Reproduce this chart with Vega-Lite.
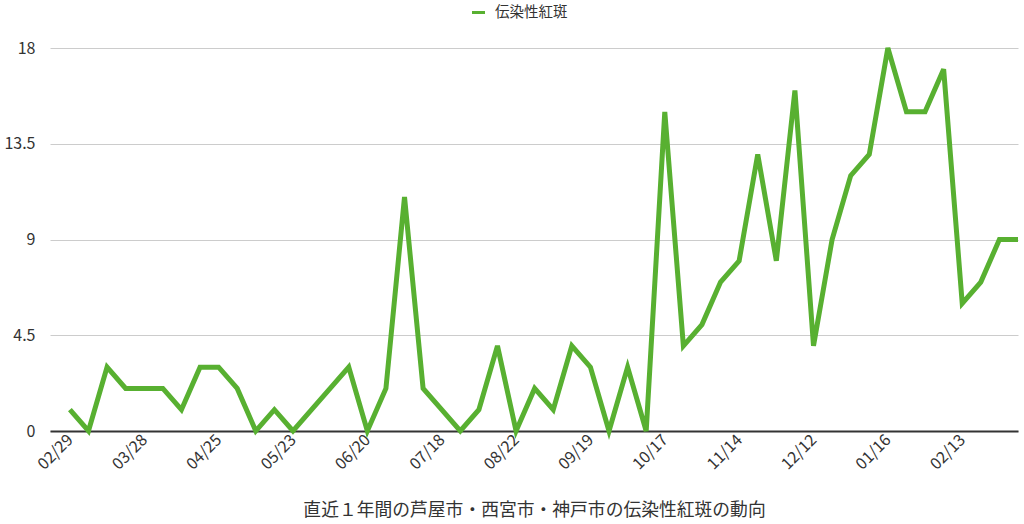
{
  "$schema": "https://vega.github.io/schema/vega-lite/v6.json",
  "width": 968,
  "height": 383,
  "autosize": {"type": "none"},
  "padding": {"left": 50, "top": 48, "right": 6, "bottom": 93},
  "background": "white",
  "config": {
    "view": {"stroke": null},
    "font": "Noto Sans CJK JP"
  },
  "data": {
    "values": [
      {"i": 0, "date": "02/29", "v": 1, "s": "伝染性紅斑"},
      {"i": 1, "date": "03/07", "v": 0, "s": "伝染性紅斑"},
      {"i": 2, "date": "03/14", "v": 3, "s": "伝染性紅斑"},
      {"i": 3, "date": "03/21", "v": 2, "s": "伝染性紅斑"},
      {"i": 4, "date": "03/28", "v": 2, "s": "伝染性紅斑"},
      {"i": 5, "date": "04/04", "v": 2, "s": "伝染性紅斑"},
      {"i": 6, "date": "04/11", "v": 1, "s": "伝染性紅斑"},
      {"i": 7, "date": "04/18", "v": 3, "s": "伝染性紅斑"},
      {"i": 8, "date": "04/25", "v": 3, "s": "伝染性紅斑"},
      {"i": 9, "date": "05/02", "v": 2, "s": "伝染性紅斑"},
      {"i": 10, "date": "05/09", "v": 0, "s": "伝染性紅斑"},
      {"i": 11, "date": "05/16", "v": 1, "s": "伝染性紅斑"},
      {"i": 12, "date": "05/23", "v": 0, "s": "伝染性紅斑"},
      {"i": 13, "date": "05/30", "v": 1, "s": "伝染性紅斑"},
      {"i": 14, "date": "06/06", "v": 2, "s": "伝染性紅斑"},
      {"i": 15, "date": "06/13", "v": 3, "s": "伝染性紅斑"},
      {"i": 16, "date": "06/20", "v": 0, "s": "伝染性紅斑"},
      {"i": 17, "date": "06/27", "v": 2, "s": "伝染性紅斑"},
      {"i": 18, "date": "07/04", "v": 11, "s": "伝染性紅斑"},
      {"i": 19, "date": "07/11", "v": 2, "s": "伝染性紅斑"},
      {"i": 20, "date": "07/18", "v": 1, "s": "伝染性紅斑"},
      {"i": 21, "date": "07/25", "v": 0, "s": "伝染性紅斑"},
      {"i": 22, "date": "08/01", "v": 1, "s": "伝染性紅斑"},
      {"i": 23, "date": "08/08", "v": 4, "s": "伝染性紅斑"},
      {"i": 24, "date": "08/22", "v": 0, "s": "伝染性紅斑"},
      {"i": 25, "date": "08/29", "v": 2, "s": "伝染性紅斑"},
      {"i": 26, "date": "09/05", "v": 1, "s": "伝染性紅斑"},
      {"i": 27, "date": "09/12", "v": 4, "s": "伝染性紅斑"},
      {"i": 28, "date": "09/19", "v": 3, "s": "伝染性紅斑"},
      {"i": 29, "date": "09/26", "v": 0, "s": "伝染性紅斑"},
      {"i": 30, "date": "10/03", "v": 3, "s": "伝染性紅斑"},
      {"i": 31, "date": "10/10", "v": 0, "s": "伝染性紅斑"},
      {"i": 32, "date": "10/17", "v": 15, "s": "伝染性紅斑"},
      {"i": 33, "date": "10/24", "v": 4, "s": "伝染性紅斑"},
      {"i": 34, "date": "10/31", "v": 5, "s": "伝染性紅斑"},
      {"i": 35, "date": "11/07", "v": 7, "s": "伝染性紅斑"},
      {"i": 36, "date": "11/14", "v": 8, "s": "伝染性紅斑"},
      {"i": 37, "date": "11/21", "v": 13, "s": "伝染性紅斑"},
      {"i": 38, "date": "11/28", "v": 8, "s": "伝染性紅斑"},
      {"i": 39, "date": "12/05", "v": 16, "s": "伝染性紅斑"},
      {"i": 40, "date": "12/12", "v": 4, "s": "伝染性紅斑"},
      {"i": 41, "date": "12/19", "v": 9, "s": "伝染性紅斑"},
      {"i": 42, "date": "12/26", "v": 12, "s": "伝染性紅斑"},
      {"i": 43, "date": "01/09", "v": 13, "s": "伝染性紅斑"},
      {"i": 44, "date": "01/16", "v": 18, "s": "伝染性紅斑"},
      {"i": 45, "date": "01/23", "v": 15, "s": "伝染性紅斑"},
      {"i": 46, "date": "01/30", "v": 15, "s": "伝染性紅斑"},
      {"i": 47, "date": "02/06", "v": 17, "s": "伝染性紅斑"},
      {"i": 48, "date": "02/13", "v": 6, "s": "伝染性紅斑"},
      {"i": 49, "date": "02/20", "v": 7, "s": "伝染性紅斑"},
      {"i": 50, "date": "02/27", "v": 9, "s": "伝染性紅斑"},
      {"i": 51, "date": "03/06", "v": 9, "s": "伝染性紅斑"}
    ]
  },
  "mark": {"type": "line", "strokeWidth": 5, "strokeJoin": "miter", "clip": false},
  "encoding": {
    "x": {
      "field": "i",
      "type": "quantitative",
      "scale": {"domain": [-1.07, 51], "nice": false, "zero": false},
      "axis": {
        "title": "直近１年間の芦屋市・西宮市・神戸市の伝染性紅斑の動向",
        "titleFontSize": 17.8,
        "titleFontWeight": "normal",
        "titleColor": "#333333",
        "titlePadding": 29,
        "values": [0, 4, 8, 12, 16, 20, 24, 28, 32, 36, 40, 44, 48],
        "labelExpr": "['02/29','03/28','04/25','05/23','06/20','07/18','08/22','09/19','10/17','11/14','12/12','01/16','02/13'][round(datum.value / 4)]",
        "labelAngle": -45,
        "labelAlign": "right",
        "labelBaseline": "middle",
        "labelFontSize": 16,
        "labelColor": "#333333",
        "labelPadding": 6,
        "labelOverlap": false,
        "labelFlush": false,
        "ticks": false,
        "grid": false,
        "domain": true,
        "domainColor": "#333333",
        "domainWidth": 2
      }
    },
    "y": {
      "field": "v",
      "type": "quantitative",
      "scale": {"domain": [0, 18], "nice": false},
      "axis": {
        "title": null,
        "values": [0, 4.5, 9, 13.5, 18],
        "format": ".3~g",
        "labelFontSize": 16,
        "labelColor": "#333333",
        "labelPadding": 15,
        "ticks": false,
        "domain": false,
        "grid": true,
        "gridColor": "#cccccc",
        "gridWidth": 1
      }
    },
    "color": {
      "field": "s",
      "type": "nominal",
      "scale": {"range": ["#58b031"]},
      "legend": {
        "title": null,
        "orient": "none",
        "legendX": 420,
        "legendY": -44,
        "symbolType": "stroke",
        "symbolStrokeWidth": 3,
        "symbolSize": 170,
        "labelFontSize": 14.5,
        "labelColor": "#333333",
        "labelOffset": 8
      }
    }
  }
}
